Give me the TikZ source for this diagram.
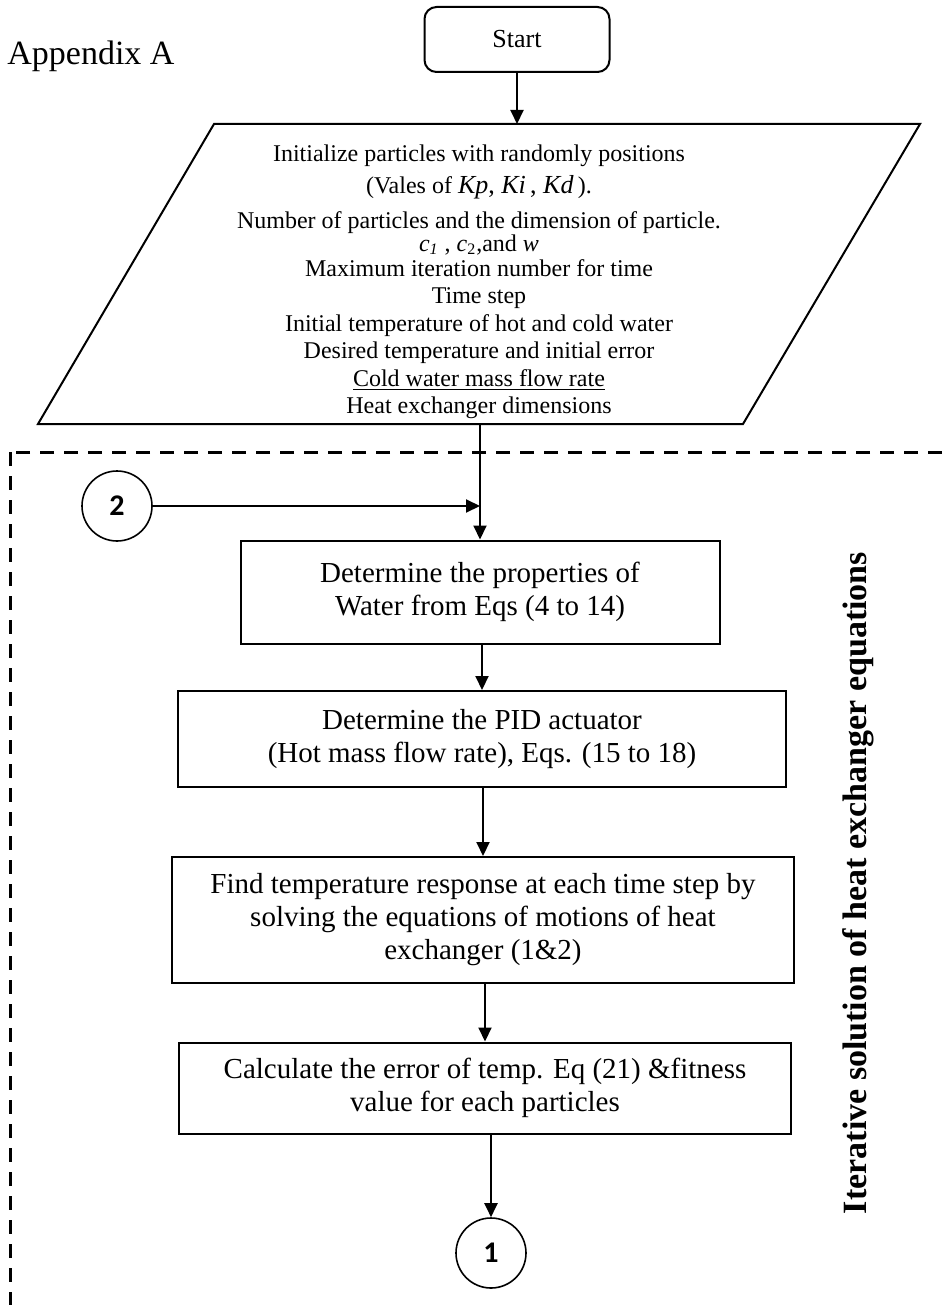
\documentclass[tikz,border=0pt]{standalone}
\usepackage{fontspec}
\setmainfont{Liberation Serif}
\newfontfamily\numfont{Carlito}
\usetikzlibrary{arrows.meta}

\begin{document}
\begin{tikzpicture}[x=0.5pt,y=-0.5pt,
    box/.style={draw,line width=1pt,inner sep=0pt,align=center,
      font=\fontsize{14.5}{16.5}\selectfont},
    conn/.style={draw,circle,line width=0.8pt,minimum size=35pt,inner sep=0pt,
      font=\numfont\bfseries\fontsize{15}{15}\selectfont},
    arr/.style={line width=1pt,-{Triangle[length=7pt,width=6.5pt]}},
    frame/.style={line width=1.5pt,dash pattern=on 7pt off 5pt}]
 \useasboundingbox (0,0) rectangle (947,1305);
 % title and start
 \node[anchor=base west,inner sep=0pt,font=\fontsize{17}{17}\selectfont] (title) at (7,65) {Appendix A};
 \node[draw,line width=1pt,rounded corners=6pt,minimum width=92.5pt,minimum height=32.5pt,
   font=\fontsize{13}{13}\selectfont] (start) at (517,39.5) {Start};
 % input data
 \coordinate (pTL) at (214,124);
 \coordinate (pTR) at (920,124);
 \coordinate (pBR) at (743,424);
 \coordinate (pBL) at (38,424);
 \draw[line width=1pt] (pTL) -- (pTR) -- (pBR) -- (pBL) -- cycle;
 \node[anchor=north,inner sep=0pt,align=center,font=\fontsize{12}{13.75}\selectfont] (init) at (479,144)
   {Initialize particles with randomly positions\\[2.25pt]
    (Vales of {\fontsize{13}{13}\selectfont\textit{Kp}, \textit{Ki}\,, \textit{Kd}\,}).\\[3.75pt]
    Number of particles and the dimension of particle.\\[-2.25pt]
    \textit{c}\textsubscript{\textit{1}} , \textit{c}\textsubscript{2},and \textit{w}\\[-1.25pt]
    Maximum iteration number for time\\
    Time step\\
    Initial temperature of hot and cold water\\
    Desired temperature and initial error\\
    \underline{Cold water mass flow rate}\\
    Heat exchanger dimensions};
 % iteration loop
 \draw[frame] (10,452) rectangle (990,1306);
 \node[rotate=90,inner sep=0pt,font=\bfseries\fontsize{17}{17}\selectfont] (loop) at (858,883)
   {Iterative solution of heat exchanger equations};
 \node[conn] (c2) at (117,506) {2};
 \node[box,minimum width=239.5pt,minimum height=51.5pt] (b1) at (480,592)
   {Determine the properties of\\Water from Eqs (4 to 14)};
 \node[box,minimum width=304pt,minimum height=48pt] (b2) at (482,739)
   {Determine the PID actuator\\(Hot mass flow rate), Eqs. (15 to 18)};
 \node[box,minimum width=311pt,minimum height=63pt] (b3) at (483,920)
   {Find temperature response at each time step by\\solving the equations of motions of heat\\exchanger (1\&2)};
 \node[box,minimum width=306pt,minimum height=45.5pt] (b4) at (485,1088)
   {Calculate the error of temp. Eq (21) \&fitness\\value for each particles};
 \node[conn] (c1) at (491,1253) {1};
 % connectors
 \draw[arr] (start) -- (start |- pTL);
 \draw[arr] (b1.north |- pBL) -- (b1.north);
 \draw[arr] (c2) -- (c2 -| b1.north);
 \draw[arr] (b1.south -| b2.north) -- (b2.north);
 \draw[arr] (b2.south -| b3.north) -- (b3.north);
 \draw[arr] (b3.south -| b4.north) -- (b4.north);
 \draw[arr] (b4.south -| c1.north) -- (c1);
\end{tikzpicture}
\end{document}
